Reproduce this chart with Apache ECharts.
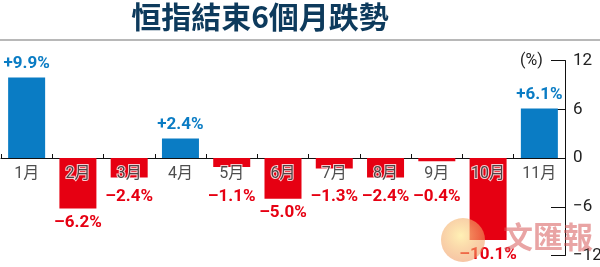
<!DOCTYPE html>
<html><head><meta charset="utf-8">
<script src="https://cdn.jsdelivr.net/npm/echarts@6/dist/echarts.min.js"></script>
<style>html,body{margin:0;padding:0;background:#fff}#c{width:600px;height:267px}</style>
</head><body><div id="c"></div>
<script>
const categories = ['1月','2月','3月','4月','5月','6月','7月','8月','9月','10月','11月'];
const values = [9.9, -6.2, -2.4, 2.4, -1.1, -5.0, -1.3, -2.4, -0.4, -10.1, 6.1];
const yMin = -12, yMax = 12, yInterval = 6;
const titleText = '恒指結束6個月跌勢';

const BLUE = '#0a7cc4', RED = '#e60012';
const NARROW = 'Roboto,"Noto Sans CJK TC",sans-serif';
const gridTop = 60.5, gridBottom = 11.5;
const pxPerUnit = (267 - gridTop - gridBottom) / (yMax - yMin);

const fmt = v => (v >= 0 ? '+' : '\u2013') + Math.abs(v).toFixed(1) + '%';
const data = values.map(v => ({
  value: v,
  itemStyle: { color: v >= 0 ? BLUE : RED },
  label: v >= 0
    ? { position: 'top', distance: 5, color: BLUE }
    : { position: 'bottom', distance: Math.max(6, 30 - Math.abs(v) * pxPerUnit), color: RED }
}));

const chart = echarts.init(document.getElementById('c'), null, { renderer: 'canvas' });
chart.setOption({
  animation: false,
  backgroundColor: '#fff',
  grid: { left: 1, right: 35, top: gridTop, bottom: gridBottom, containLabel: false, outerBoundsMode: 'none' },
  xAxis: {
    type: 'category', data: categories,
    axisLine: { onZero: true, lineStyle: { color: '#111', width: 1 } },
    axisTick: { show: true, inside: true, length: 4, alignWithLabel: false, lineStyle: { color: '#111' } },
    axisLabel: { show: false },
    splitLine: { show: false }
  },
  yAxis: {
    type: 'value', position: 'right', min: yMin, max: yMax, interval: yInterval,
    axisLine: { show: true, lineStyle: { color: '#111', width: 1 } },
    axisTick: { show: true, inside: true, length: 14, lineStyle: { color: '#111' } },
    axisLabel: { margin: 8, fontFamily: NARROW, fontSize: 17, color: '#222',
      formatter: v => (v < 0 ? '\u2212' + Math.abs(v) : String(v)) },
    splitLine: { show: false }
  },
  series: [{
    type: 'bar', data: data, barWidth: 37,
    label: { show: true, formatter: p => fmt(p.value), fontFamily: NARROW, fontWeight: 'bold', fontSize: 17 }
  }, {
    type: 'scatter', data: categories.map(() => 0), symbolSize: 0, silent: true, z: 5,
    label: { show: true, position: 'bottom', distance: 8, formatter: p => categories[p.dataIndex],
      fontFamily: NARROW, fontSize: 16, color: '#222', textBorderColor: '#fff', textBorderWidth: 2 }
  }],
  graphic: [
    { type: 'text', x: 260, y: 2, style: { text: titleText, font: 'bold 30px "Noto Sans CJK TC"', fill: '#0d3a5c', textAlign: 'center' } },
    { type: 'line', shape: { x1: 0, y1: 40, x2: 600, y2: 40 }, style: { stroke: '#a0a0a0', lineWidth: 1.5 } },
    { type: 'text', x: 520, y: 53, style: { text: '(%)', font: '16px Roboto', fill: '#222' } },
    { type: 'circle', shape: { cx: 463, cy: 240, r: 22 }, z: 100,
      style: { fill: { type: 'radial', x: 0.45, y: 0.4, r: 0.6, colorStops: [{ offset: 0, color: 'rgba(255,235,150,0.7)' }, { offset: 1, color: 'rgba(240,150,90,0.55)' }] } } },
    { type: 'text', x: 503, y: 222, z: 100, style: { text: '文匯報', font: 'bold 30px "Noto Sans CJK TC"', fill: 'rgba(215,90,90,0.55)' } }
  ]
});
</script></body></html>
